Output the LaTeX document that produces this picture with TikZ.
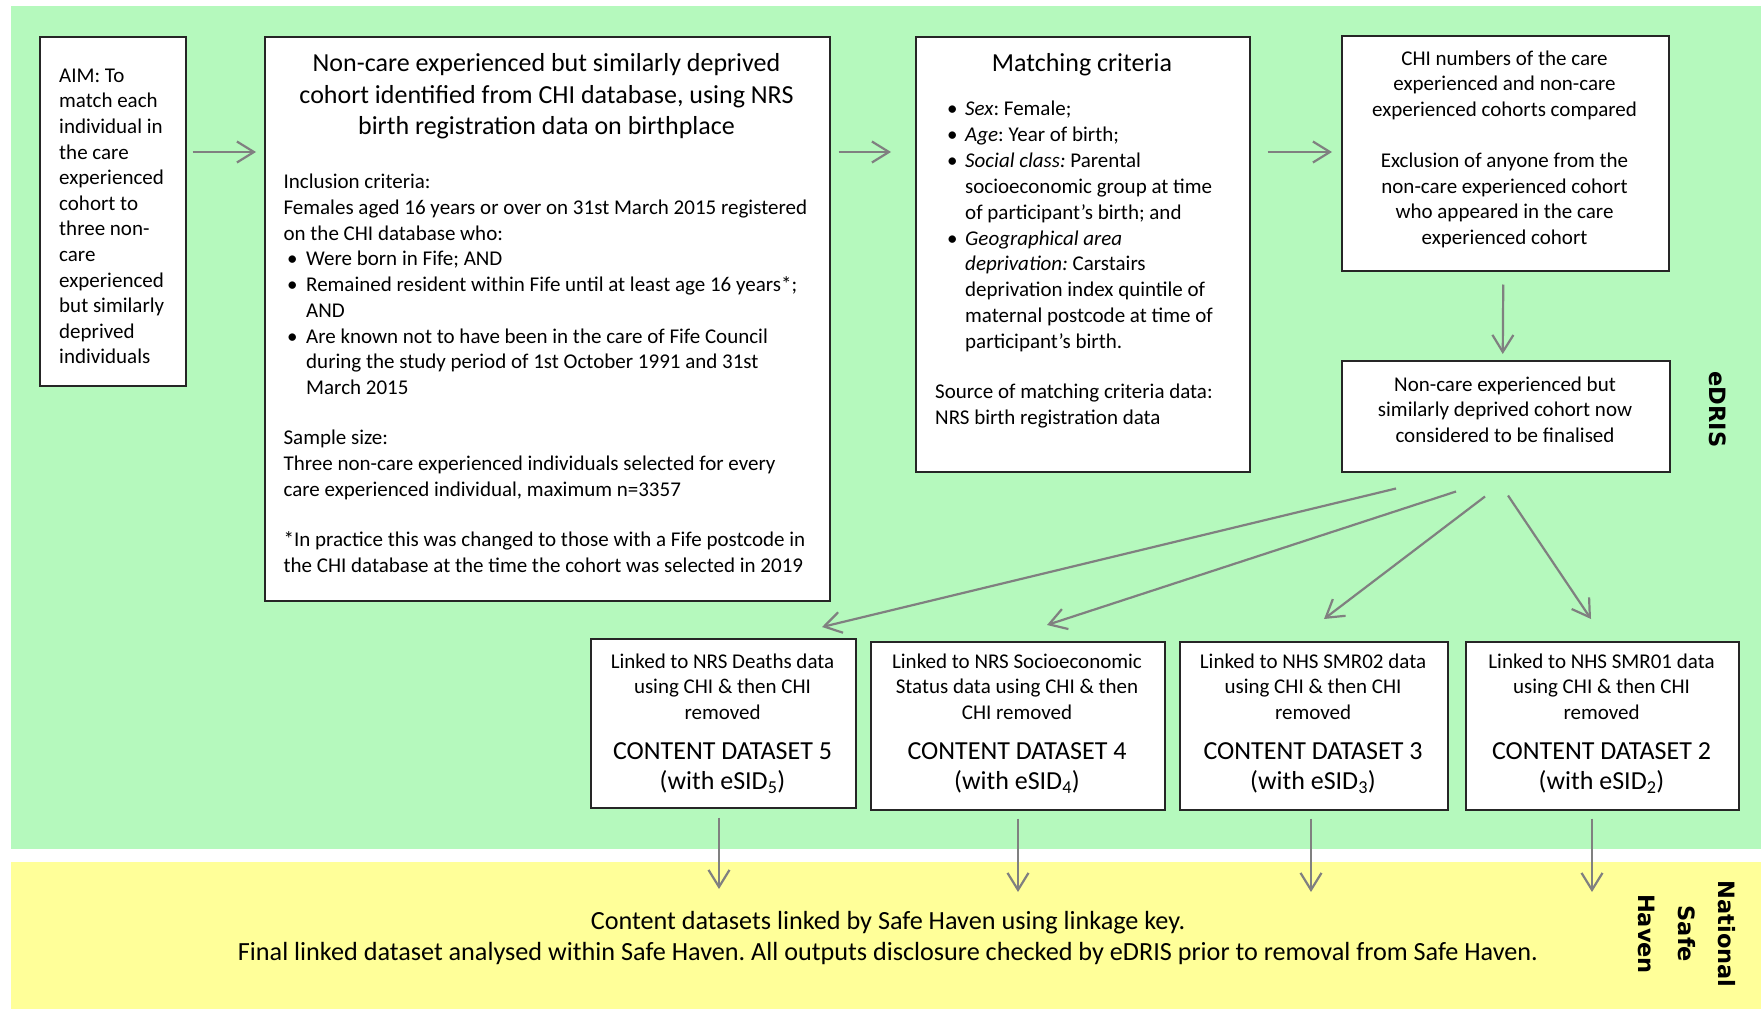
\documentclass[tikz,border=0pt]{standalone}
\usepackage{fontspec}
\setmainfont{Carlito}
\newfontfamily\lblfont{DejaVu Sans}
\usetikzlibrary{arrows.meta}
\definecolor{bggreen}{RGB}{181,249,189}
\definecolor{bgyellow}{RGB}{255,255,153}
\definecolor{arrgray}{RGB}{128,128,128}
\newcommand\bodyfont{\fontsize{21}{25.6}\selectfont}
\newcommand\bigfont{\fontsize{26}{31.7}\selectfont}
\newcommand\bulM{\makebox[22.6pt][l]{\hspace{3.6pt}\textbullet}}
\newcommand\indM{\hspace*{22.6pt}}
\newcommand\bulC{\makebox[30pt][l]{\hspace{12pt}\textbullet}}
\newcommand\indC{\hspace*{30pt}}
\frenchspacing
\begin{document}
\begin{tikzpicture}[x=1pt,y=-1pt,
  region/.style={inner sep=0pt,anchor=north west,draw=none},
  box/.style={draw=black!85,line width=1.5pt,fill=white,inner sep=0pt,anchor=north west},
  txt/.style={inner sep=0pt},
  arr/.style={draw=arrgray,line width=2.2pt,-{Straight Barb[length=17pt,width=21pt]}},
  lbl/.style={inner sep=0pt,rotate=-90,font=\lblfont\bfseries}]
\useasboundingbox (0,0) rectangle (1761,1009);
\fill[white] (0,0) rectangle (1761,1009);
% regions
\node[region,fill=bggreen,minimum width=1750,minimum height=843] (edris) at (11,6) {};
\node[region,fill=bgyellow,minimum width=1750,minimum height=147] (nsh) at (11,862) {};
% boxes
\node[box,minimum width=146,minimum height=349] (aim) at (39,36) {};
\node[box,minimum width=565,minimum height=564] (main) at (264,36) {};
\node[box,minimum width=334,minimum height=435] (match) at (915,36) {};
\node[box,minimum width=327,minimum height=235] (chi) at (1341,35) {};
\node[box,minimum width=328,minimum height=111] (fin) at (1341,360) {};
\node[box,minimum width=265,minimum height=169] (ds5) at (590,638) {};
\node[box,minimum width=294,minimum height=168] (ds4) at (870,641) {};
\node[box,minimum width=268,minimum height=168] (ds3) at (1179,641) {};
\node[box,minimum width=273,minimum height=168] (ds2) at (1465,641) {};
% texts
\node[txt,anchor=base west] (aimt) at (59,82.3) {\parbox[t]{125pt}{\raggedright\fontsize{21}{25.6}\selectfont
AIM: To\\match each\\individual in\\the care\\experienced\\cohort to\\three non-\\care\\experienced\\but similarly\\deprived\\individuals}};
\node[txt,anchor=base] (maint) at (546.5,71.5) {\parbox[t]{560pt}{\centering\bigfont
Non-care experienced but similarly deprived\\cohort identified from CHI database, using NRS\\birth registration data on birthplace}};
\node[txt,anchor=base west] (mainb) at (283.4,188.5) {\parbox[t]{600pt}{\raggedright\fontsize{21}{25.75}\selectfont
Inclusion criteria:\\
Females aged 16 years or over on 31st March 2015 registered\\
on the CHI database who:\\
\bulM Were born in Fife; AND\\
\bulM Remained resident within Fife until at least age 16 years*;\\
\indM AND\\
\bulM Are known not to have been in the care of Fife Council\\
\indM during the study period of 1st October 1991 and 31st\\
\indM March 2015\\[24.6pt]
Sample size:\\
Three non-care experienced individuals selected for every\\
care experienced individual, maximum n=3357\\[24.6pt]
*In practice this was changed to those with a Fife postcode in\\
the CHI database at the time the cohort was selected in 2019}};
\node[txt,anchor=base] (matcht) at (1082,71) {\bigfont Matching criteria};
\node[txt,anchor=base west] (matchb) at (935,115.8) {\parbox[t]{320pt}{\raggedright\fontsize{21}{25.85}\selectfont
\bulC\textit{Sex}: Female;\\
\bulC\textit{Age}: Year of birth;\\
\bulC\textit{Social class:} Parental\\
\indC socioeconomic group at time\\
\indC of participant’s birth; and\\
\bulC\textit{Geographical area}\\
\indC\textit{deprivation:} Carstairs\\
\indC deprivation index quintile of\\
\indC maternal postcode at time of\\
\indC participant’s birth.\\[24pt]
Source of matching criteria data:\\
NRS birth registration data}};
\node[txt,anchor=base] (chit) at (1504.5,65.2) {\parbox[t]{320pt}{\centering\bodyfont
CHI numbers of the care\\experienced and non-care\\experienced cohorts compared\\[25.6pt]
Exclusion of anyone from the\\non-care experienced cohort\\who appeared in the care\\experienced cohort}};
\node[txt,anchor=base] (fint) at (1505,391) {\parbox[t]{320pt}{\centering\bodyfont
Non-care experienced but\\similarly deprived cohort now\\considered to be finalised}};
% dataset texts
\node[txt,anchor=base] (ds5a) at (722.5,668) {\parbox[t]{280pt}{\centering\bodyfont Linked to NRS Deaths data\\using CHI \& then CHI\\removed}};
\node[txt,anchor=base] (ds5b) at (722.5,759) {\parbox[t]{280pt}{\centering\fontsize{26}{30.8}\selectfont CONTENT DATASET 5\\(with eSID\textsubscript{5})}};
\node[txt,anchor=base] (ds4a) at (1017,668) {\parbox[t]{300pt}{\centering\bodyfont Linked to NRS Socioeconomic\\Status data using CHI \& then\\CHI removed}};
\node[txt,anchor=base] (ds4b) at (1017,759) {\parbox[t]{280pt}{\centering\fontsize{26}{30.8}\selectfont CONTENT DATASET 4\\(with eSID\textsubscript{4})}};
\node[txt,anchor=base] (ds3a) at (1313,668) {\parbox[t]{280pt}{\centering\bodyfont Linked to NHS SMR02 data\\using CHI \& then CHI\\removed}};
\node[txt,anchor=base] (ds3b) at (1313,759) {\parbox[t]{280pt}{\centering\fontsize{26}{30.8}\selectfont CONTENT DATASET 3\\(with eSID\textsubscript{3})}};
\node[txt,anchor=base] (ds2a) at (1601.5,668) {\parbox[t]{280pt}{\centering\bodyfont Linked to NHS SMR01 data\\using CHI \& then CHI\\removed}};
\node[txt,anchor=base] (ds2b) at (1601.5,759) {\parbox[t]{280pt}{\centering\fontsize{26}{30.8}\selectfont CONTENT DATASET 2\\(with eSID\textsubscript{2})}};
% safe haven text
\node[txt,anchor=base] (nsht) at (888,929.5) {\parbox[t]{1400pt}{\centering\fontsize{26.2}{31.4}\selectfont
Content datasets linked by Safe Haven using linkage key.\\
Final linked dataset analysed within Safe Haven. All outputs disclosure checked by eDRIS prior to removal from Safe Haven.}};
% side labels
\node[lbl] (edrisl) at (1718,409.5) {\fontsize{22.5}{27}\selectfont eDRIS};
\node[lbl] (nshl) at (1687,934) {\parbox{200pt}{\centering\fontsize{22.5}{40}\selectfont National\\Safe\\Haven}};
% arrows
\draw[arr] ([shift={(6,116)}]aim.north east) -- ([shift={(-8,116)}]main.north west);
\draw[arr] ([shift={(8,116)}]main.north east) -- ([shift={(-24,116)}]match.north west);
\draw[arr] ([shift={(17,116)}]match.north east) -- ([shift={(-9,117)}]chi.north west);
\draw[arr] ([shift={(-2,13)}]chi.south) -- ([shift={(-3,-6)}]fin.north);
\draw[arr] ([shift={(55,16)}]fin.south west) -- ([shift={(232,-11)}]ds5.north west);
\draw[arr] ([shift={(115,19)}]fin.south west) -- ([shift={(177,-16)}]ds4.north west);
\draw[arr] ([shift={(144,24)}]fin.south west) -- ([shift={(145,-22)}]ds3.north west);
\draw[arr] ([shift={(167,23)}]fin.south west) -- ([shift={(126,-22)}]ds2.north west);
\draw[arr] ([shift={(129,9)}]ds5.south west) -- ([shift={(708,27)}]nsh.north west);
\draw[arr] ([shift={(148,8)}]ds4.south west) -- ([shift={(1007,30)}]nsh.north west);
\draw[arr] ([shift={(132,8)}]ds3.south west) -- ([shift={(1300,30)}]nsh.north west);
\draw[arr] ([shift={(127,8)}]ds2.south west) -- ([shift={(1581,30)}]nsh.north west);
\end{tikzpicture}
\end{document}
